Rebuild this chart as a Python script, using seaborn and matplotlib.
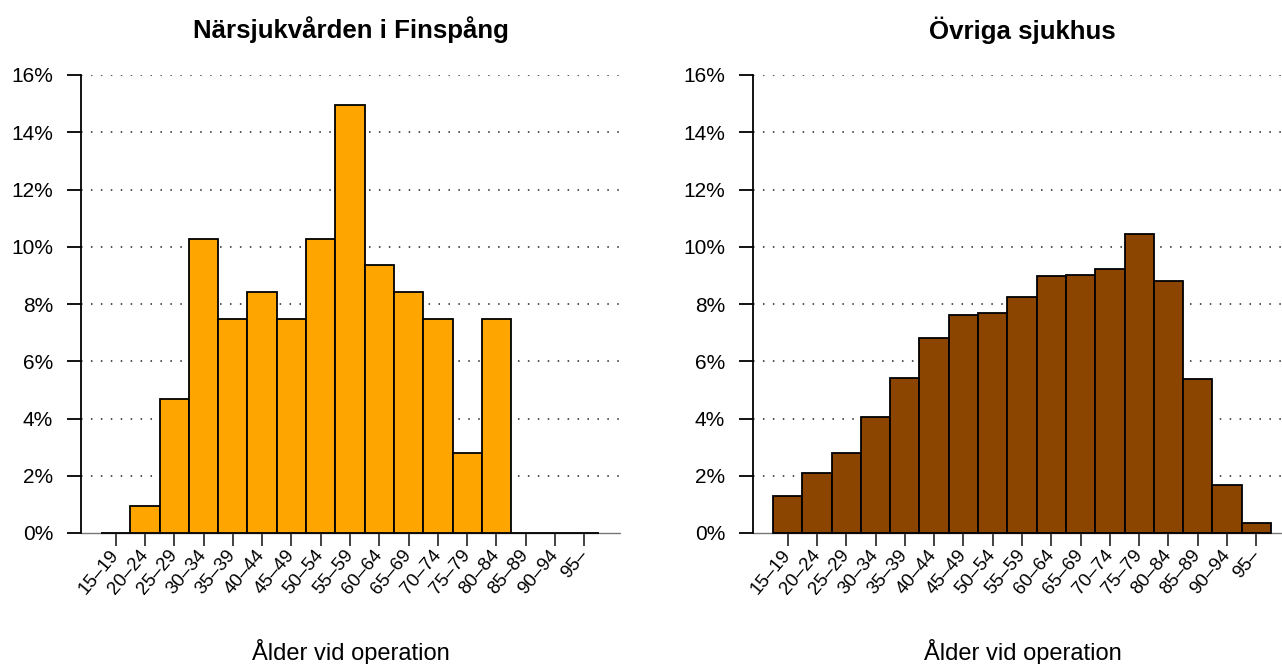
import matplotlib
matplotlib.use("Agg")
import matplotlib.pyplot as plt
import seaborn as sns
import pandas as pd

age_groups = ["15–19", "20–24", "25–29", "30–34", "35–39", "40–44", "45–49",
              "50–54", "55–59", "60–64", "65–69", "70–74", "75–79", "80–84",
              "85–89", "90–94", "95–"]
finspang = [0.0, 0.93, 4.67, 10.28, 7.48, 8.41, 7.48, 10.28, 14.95, 9.35,
            8.41, 7.48, 2.80, 7.48, 0.0, 0.0, 0.0]
ovriga = [1.31, 2.11, 2.79, 4.04, 5.43, 6.81, 7.62, 7.68, 8.24, 8.99,
          9.00, 9.22, 10.44, 8.79, 5.37, 1.67, 0.34]
titles = ["Närsjukvården i Finspång", "Övriga sjukhus"]
colors = ["#FFA500", "#8B4500"]
yticks = [0, 2, 4, 6, 8, 10, 12, 14, 16]
xlabel = "Ålder vid operation"

sns.set_style("white")
plt.rcParams["font.family"] = ["Liberation Sans", "DejaVu Sans"]
plt.rcParams["text.color"] = "black"
plt.rcParams["xtick.color"] = "black"
plt.rcParams["ytick.color"] = "black"
plt.rcParams["xtick.labelcolor"] = "black"
plt.rcParams["ytick.labelcolor"] = "black"

W, H = 1282, 664
fig = plt.figure(figsize=(W / 100, H / 100), dpi=100)

def px_axes(x0, x1, ytop, ybot):
    return fig.add_axes([x0 / W, (H - ybot) / H, (x1 - x0) / W, (ybot - ytop) / H])

series = [finspang, ovriga]
lefts = [81, 753]
for i in range(2):
    x0 = lefts[i]
    ax = px_axes(x0, x0 + 539, 75, 533)
    df = pd.DataFrame({"age": age_groups, "pct": series[i]})
    for yv in yticks[1:]:
        ax.axhline(yv, color="#222222", lw=1.1, ls=(0, (1, 5.5)), zorder=0)
    ax.axhline(0, color="#777777", lw=1.0, zorder=1, clip_on=False)
    sns.barplot(data=df, x="age", y="pct", order=age_groups, color=colors[i],
                saturation=1, width=1.0, edgecolor="black", linewidth=1.3,
                ax=ax, zorder=2)
    for p in ax.patches:
        p.set_clip_on(False)
    ax.set_xlim(-1.183, 17.217)
    ax.set_ylim(0, 16)
    for s in ["top", "right", "bottom"]:
        ax.spines[s].set_visible(False)
    ax.spines["left"].set_bounds(0, 16)
    ax.spines["left"].set_linewidth(1.3)
    ax.spines["left"].set_color("black")
    ax.set_yticks(yticks)
    ax.set_yticklabels([f"{v}%" for v in yticks], fontsize=15)
    ax.tick_params(axis="y", direction="out", length=10, width=1.3, pad=10,
                   left=True, color="black", labelcolor="black")
    ax.set_xticks(range(len(age_groups)))
    ax.set_xticklabels(age_groups, rotation=50, ha="right", va="center",
                       rotation_mode="anchor", fontsize=13.5)
    ax.tick_params(axis="x", direction="out", length=9.5, width=1.3, pad=4,
                   bottom=True, color="#333333", labelcolor="black")
    ax.set_xlabel("")
    ax.set_ylabel("")
    ax.grid(False)
    cx = (x0 + x0 + 539) / 2
    fig.text(cx / W, 1 - 30 / H, titles[i], ha="center", va="center",
             fontsize=18.6, fontweight="bold", color="black")
    fig.text(cx / W, 1 - 652 / H, xlabel, ha="center", va="center",
             fontsize=17, color="black")

fig.savefig("out.png", dpi=100)
